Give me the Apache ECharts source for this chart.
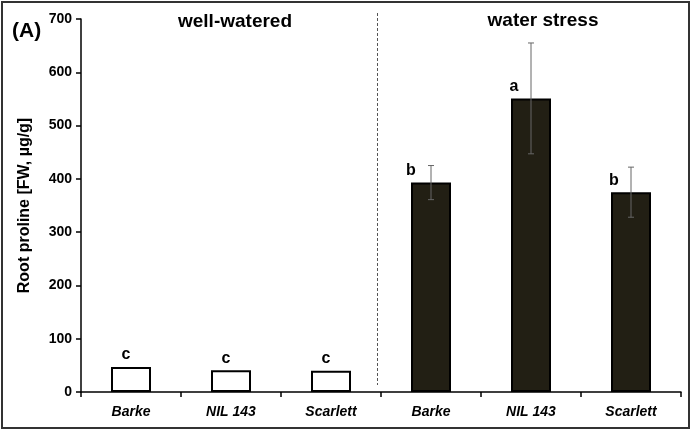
<!DOCTYPE html>
<html><head><meta charset="utf-8">
<script src="https://cdn.jsdelivr.net/npm/echarts@6/dist/echarts.min.js"></script>
<style>html,body{margin:0;padding:0;background:#fff}#c{width:692px;height:431px}</style>
</head><body><div id="c"></div>
<script>
var categories = ['Barke', 'NIL 143', 'Scarlett', 'Barke', 'NIL 143', 'Scarlett'];
var wellWatered = [47, 41, 40, '-', '-', '-'];
var waterStress = ['-', '-', '-', 393, 551, 375];
var errors = [null, null, null, 32, 104, 47];
var letters = ['c', 'c', 'c', 'b', 'a', 'b'];
var groupTitles = ['well-watered', 'water stress'];
var yTicks = [0, 100, 200, 300, 400, 500, 600, 700];

var FONT = '"Liberation Sans", Arial, sans-serif';
var chart = echarts.init(document.getElementById('c'));

function labelFor(i) {
  return {
    show: true, position: 'top', distance: 4,
    offset: [i < 3 ? -5 : (i === 3 ? -20 : -17), 0],
    formatter: letters[i], fontFamily: FONT, fontWeight: 'bold', fontSize: 16, color: '#000'
  };
}
var wwData = wellWatered.map(function (v, i) { return v === '-' ? v : { value: v, label: labelFor(i) }; });
var wsData = waterStress.map(function (v, i) { return v === '-' ? v : { value: v, label: labelFor(i) }; });
var errData = categories.map(function (c, i) {
  var v = i < 3 ? wellWatered[i] : waterStress[i];
  return errors[i] == null ? null : [i, v - errors[i], v + errors[i]];
}).filter(function (d) { return d; });

chart.setOption({
  animation: false,
  grid: { left: 81, right: 11, top: 19, bottom: 39, containLabel: false },
  xAxis: {
    type: 'category', data: categories,
    axisLine: { lineStyle: { color: '#000', width: 1.5 } },
    axisTick: { show: true, length: 5, inside: false, lineStyle: { color: '#000', width: 1.5 } },
    axisLabel: { fontFamily: FONT, fontWeight: 'bold', fontStyle: 'italic', fontSize: 14, color: '#000', margin: 13 }
  },
  yAxis: {
    type: 'value', min: yTicks[0], max: yTicks[yTicks.length - 1], interval: 100,
    name: 'Root proline [FW, µg/g]', nameLocation: 'middle', nameGap: 48,
    nameTextStyle: { fontFamily: FONT, fontWeight: 'bold', fontSize: 16, color: '#000' },
    axisLine: { show: true, lineStyle: { color: '#000', width: 1.5 } },
    axisTick: { show: true, length: 5, lineStyle: { color: '#000', width: 1.5 } },
    splitLine: { show: false },
    axisLabel: { fontFamily: FONT, fontWeight: 'bold', fontSize: 14, color: '#000', margin: 9 }
  },
  series: [
    { type: 'bar', data: wwData, barWidth: '40%', barGap: '-100%',
      itemStyle: { color: '#fff', borderColor: '#000', borderWidth: 2 } },
    { type: 'bar', data: wsData, barWidth: '40%', barGap: '-100%',
      itemStyle: { color: '#221f14', borderColor: '#000', borderWidth: 2 } },
    { type: 'custom', z: 10, data: errData,
      renderItem: function (params, api) {
        var x = api.coord([api.value(0), 0])[0];
        var lo = api.coord([api.value(0), api.value(1)])[1];
        var hi = api.coord([api.value(0), api.value(2)])[1];
        var st = { stroke: '#666', lineWidth: 1 };
        return { type: 'group', children: [
          { type: 'line', shape: { x1: x, y1: lo, x2: x, y2: hi }, style: st },
          { type: 'line', shape: { x1: x - 3, y1: lo, x2: x + 3, y2: lo }, style: st },
          { type: 'line', shape: { x1: x - 3, y1: hi, x2: x + 3, y2: hi }, style: st }
        ] };
      }
    }
  ]
});

var p2 = chart.convertToPixel({ xAxisIndex: 0 }, 2);
var p3 = chart.convertToPixel({ xAxisIndex: 0 }, 3);
var p1 = chart.convertToPixel({ xAxisIndex: 0 }, 1);
var p4 = chart.convertToPixel({ xAxisIndex: 0 }, 4);
var divX = Math.round((p2 + p3) / 2) - 3.5;
chart.setOption({
  graphic: [
    { type: 'rect', shape: { x: 2, y: 2, width: 687, height: 426 }, style: { fill: null, stroke: '#333', lineWidth: 2 }, silent: true },
    { type: 'line', shape: { x1: divX, y1: 13, x2: divX, y2: 385 }, style: { stroke: '#555', lineWidth: 1, lineDash: [3, 2] } },
    { type: 'text', x: p1 + 4, y: 22, style: { text: groupTitles[0], font: 'bold 19px ' + FONT, fill: '#000', textAlign: 'center', textVerticalAlign: 'middle' } },
    { type: 'text', x: p4 + 12, y: 21, style: { text: groupTitles[1], font: 'bold 19px ' + FONT, fill: '#000', textAlign: 'center', textVerticalAlign: 'middle' } },
    { type: 'text', x: 12, y: 31, style: { text: '(A)', font: 'bold 21px ' + FONT, fill: '#000', textAlign: 'left', textVerticalAlign: 'middle' } }
  ]
});
</script></body></html>
